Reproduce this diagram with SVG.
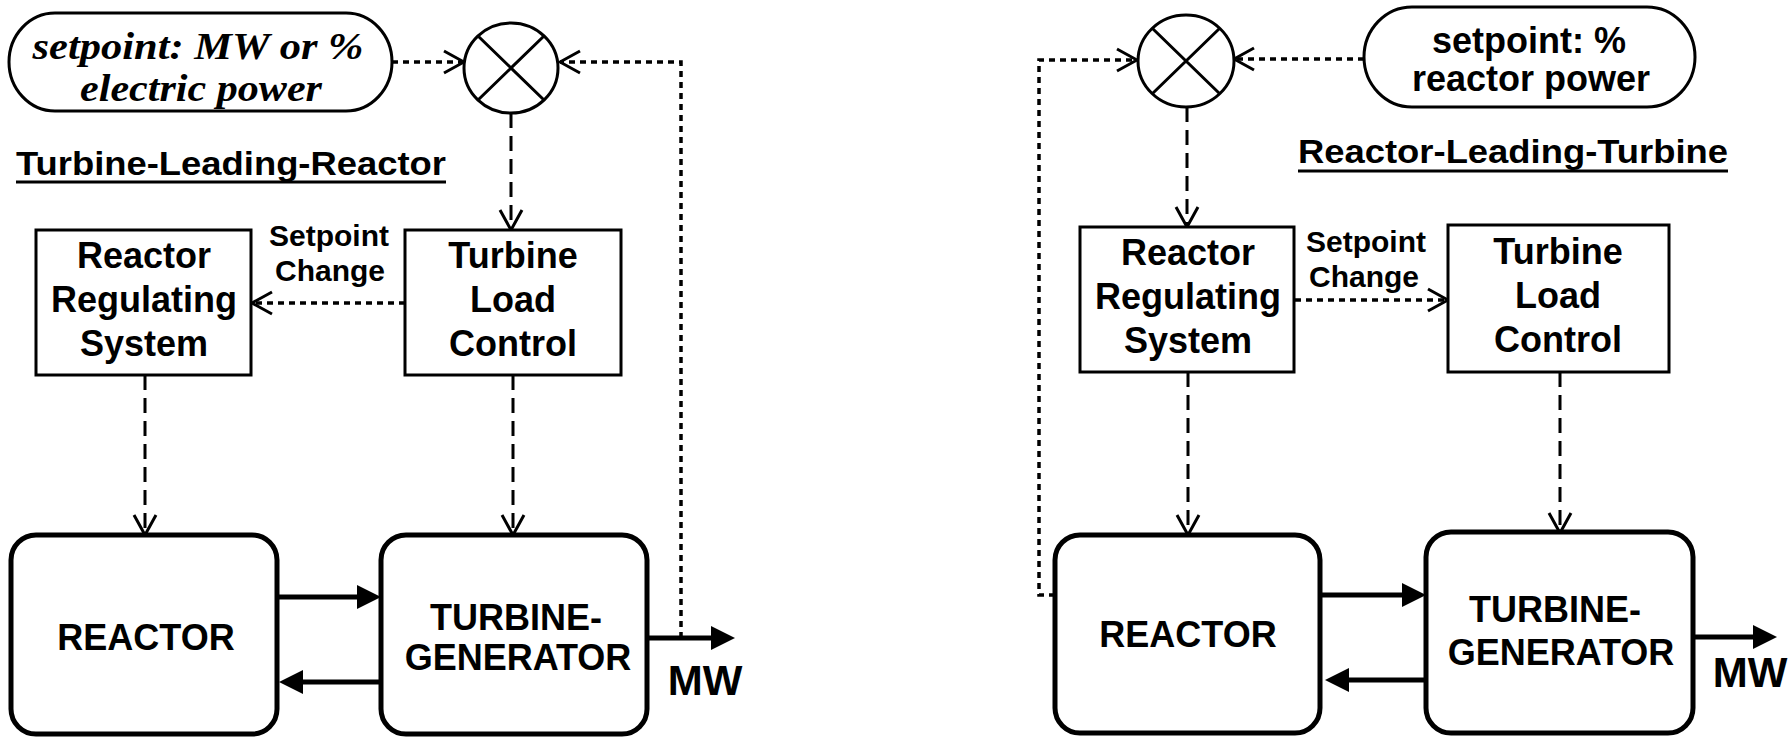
<svg xmlns="http://www.w3.org/2000/svg" width="1791" height="737" viewBox="0 0 1791 737">
<defs>
<style>
.bg{fill:#fff}
.box{fill:#fff;stroke:#000;stroke-width:3}
.big{fill:#fff;stroke:#000;stroke-width:5}
.sum{fill:#fff;stroke:#000;stroke-width:3}
.t{font-family:"Liberation Sans",Arial,sans-serif;font-weight:bold;font-size:36px;fill:#000;text-anchor:middle}
.s{font-family:"Liberation Sans",Arial,sans-serif;font-weight:bold;font-size:30px;fill:#000;text-anchor:middle}
.mw{font-family:"Liberation Sans",Arial,sans-serif;font-weight:bold;font-size:42px;fill:#000;text-anchor:middle}
.ti{font-family:"Liberation Sans",Arial,sans-serif;font-weight:bold;font-size:34px;fill:#000}
.it{font-family:"Liberation Serif","Times New Roman",serif;font-weight:bold;font-style:italic;font-size:38px;fill:#000;text-anchor:middle}
.dot{fill:none;stroke:#000;stroke-width:3.5;stroke-dasharray:6 5;marker-end:url(#vee)}
.dash{fill:none;stroke:#000;stroke-width:3;stroke-dasharray:15 8;marker-end:url(#vee)}
.solid{fill:none;stroke:#000;stroke-width:5;marker-end:url(#tri)}
.ul{stroke:#000;stroke-width:3}
</style>
<marker id="vee" viewBox="0 0 24 26" refX="22" refY="13" markerWidth="24" markerHeight="26" markerUnits="userSpaceOnUse" orient="auto">
<path d="M2,2 L22,13 L2,24" fill="none" stroke="#000" stroke-width="3"/>
</marker>
<marker id="tri" viewBox="0 0 24 24" refX="0" refY="12" markerWidth="24" markerHeight="24" markerUnits="userSpaceOnUse" orient="auto">
<path d="M0,0 L24,12 L0,24 Z" fill="#000"/>
</marker>
</defs>
<rect class="bg" x="0" y="0" width="1791" height="737"/>

<g id="connectors">
<!-- left -->
<path class="dot" d="M392,62 H464"/>
<path class="dot" d="M681,638 V62 H560"/>
<path class="dash" d="M511,113 V230"/>
<path class="dot" d="M405,303 H252"/>
<path class="dash" d="M145,375 V535"/>
<path class="dash" d="M513,375 V535"/>
<path class="solid" d="M277,597 H357"/>
<path class="solid" d="M381,682 H303"/>
<path class="solid" d="M647,638 H711"/>
<!-- right -->
<path class="dot" d="M1364,59 H1234"/>
<path class="dot" d="M1055,595 H1039 V60 H1137"/>
<path class="dash" d="M1187,107 V227"/>
<path class="dot" d="M1295,300 H1448"/>
<path class="dash" d="M1188,372 V535"/>
<path class="dash" d="M1560,372 V533"/>
<path class="solid" d="M1320,595 H1402"/>
<path class="solid" d="M1426,680 H1349"/>
<path class="solid" d="M1693,637 H1753"/>
</g>

<g id="setpoint-left">
<rect class="box" x="9" y="13" width="383" height="98" rx="46" ry="49"/>
<text class="it" x="198" y="59" textLength="331" lengthAdjust="spacingAndGlyphs">setpoint: MW or %</text>
<text class="it" x="201" y="101" textLength="242" lengthAdjust="spacingAndGlyphs">electric power</text>
</g>
<g id="sum-left">
<ellipse class="sum" cx="511" cy="68" rx="47" ry="45"/>
<path d="M478,36 L544,100 M544,36 L478,100" stroke="#000" stroke-width="3"/>
</g>
<g id="title-left">
<text class="ti" x="16" y="175" textLength="430" lengthAdjust="spacingAndGlyphs">Turbine-Leading-Reactor</text>
<line class="ul" x1="16" y1="182" x2="446" y2="182"/>
</g>
<g id="rrs-left">
<rect class="box" x="36" y="230" width="215" height="145"/>
<text class="t" x="144" y="268">Reactor</text>
<text class="t" x="144" y="312">Regulating</text>
<text class="t" x="144" y="356">System</text>
</g>
<g id="tlc-left">
<rect class="box" x="405" y="230" width="216" height="145"/>
<text class="t" x="513" y="268">Turbine</text>
<text class="t" x="513" y="312">Load</text>
<text class="t" x="513" y="356">Control</text>
</g>
<g id="label-left">
<text class="s" x="329" y="246">Setpoint</text>
<text class="s" x="330" y="281">Change</text>
</g>
<g id="reactor-left">
<rect class="big" x="11" y="535" width="266" height="199" rx="25"/>
<text class="t" x="146" y="650">REACTOR</text>
</g>
<g id="tg-left">
<rect class="big" x="381" y="535" width="266" height="199" rx="25"/>
<text class="t" x="516" y="630">TURBINE-</text>
<text class="t" x="518" y="670">GENERATOR</text>
</g>
<g id="mw-left">
<text class="mw" x="705" y="695">MW</text>
</g>

<g id="sum-right">
<ellipse class="sum" cx="1186" cy="61" rx="48" ry="46"/>
<path d="M1152,28 L1220,94 M1220,28 L1152,94" stroke="#000" stroke-width="3"/>
</g>
<g id="setpoint-right">
<rect class="box" x="1364" y="7" width="331" height="100" rx="48" ry="50"/>
<text class="t" x="1529" y="53">setpoint: %</text>
<text class="t" x="1531" y="91">reactor power</text>
</g>
<g id="title-right">
<text class="ti" x="1298" y="163" textLength="430" lengthAdjust="spacingAndGlyphs">Reactor-Leading-Turbine</text>
<line class="ul" x1="1298" y1="171" x2="1728" y2="171"/>
</g>
<g id="rrs-right">
<rect class="box" x="1080" y="227" width="214" height="145"/>
<text class="t" x="1188" y="265">Reactor</text>
<text class="t" x="1188" y="309">Regulating</text>
<text class="t" x="1188" y="353">System</text>
</g>
<g id="tlc-right">
<rect class="box" x="1448" y="225" width="221" height="147"/>
<text class="t" x="1558" y="264">Turbine</text>
<text class="t" x="1558" y="308">Load</text>
<text class="t" x="1558" y="352">Control</text>
</g>
<g id="label-right">
<text class="s" x="1366" y="252">Setpoint</text>
<text class="s" x="1364" y="287">Change</text>
</g>
<g id="reactor-right">
<rect class="big" x="1055" y="535" width="265" height="198" rx="25"/>
<text class="t" x="1188" y="647">REACTOR</text>
</g>
<g id="tg-right">
<rect class="big" x="1426" y="532" width="267" height="201" rx="25"/>
<text class="t" x="1555" y="622">TURBINE-</text>
<text class="t" x="1561" y="665">GENERATOR</text>
</g>
<g id="mw-right">
<text class="mw" x="1750" y="687">MW</text>
</g>
</svg>
